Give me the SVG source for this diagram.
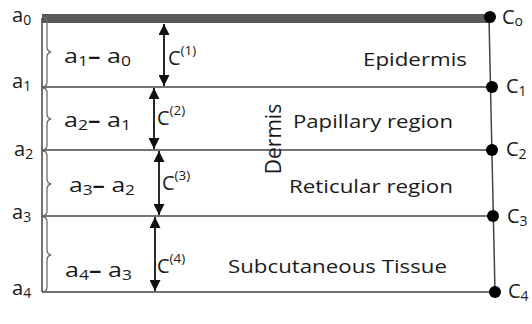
<svg xmlns="http://www.w3.org/2000/svg" width="532" height="324" viewBox="0 0 532 324">
<style>
text{font-family:"Open Sans","Liberation Sans",sans-serif;fill:#1a1a1a}
.lbl{font-size:20px}
.mid{font-size:20px}
.reg{font-size:18.5px}
.c{font-size:20px}
.sub{font-size:14px}
.sup{font-size:13.5px}
.hl{stroke:#444;stroke-width:1.5;fill:none}
.brace{stroke:#6a6a6a;stroke-width:1.3;fill:none}
.arr{stroke:#111;stroke-width:1.8;marker-start:url(#ah);marker-end:url(#ah)}
</style>
<defs>
<marker id="ah" viewBox="0 0 10 10" refX="10" refY="5" markerWidth="11" markerHeight="11" markerUnits="userSpaceOnUse" orient="auto-start-reverse">
<path d="M0,0 L10,5 L0,10 Z" fill="#111"/>
</marker>
</defs>
<rect width="532" height="324" fill="#fff"/>
<g id="frame">
<rect x="42" y="14" width="448" height="9" fill="#595959"/>
<line class="hl" x1="42" y1="18" x2="42" y2="292"/>
<line class="hl" x1="489" y1="18" x2="495" y2="292"/>
</g>
<g id="connectors">
<line class="hl" x1="42" y1="87" x2="492" y2="87"/>
<line class="hl" x1="42" y1="150" x2="492" y2="150"/>
<line class="hl" x1="42" y1="216" x2="493" y2="216"/>
<line class="hl" x1="42" y1="292" x2="495" y2="292"/>
<line class="arr" x1="164" y1="24" x2="164" y2="86"/>
<line class="arr" x1="154" y1="88" x2="154" y2="149"/>
<line class="arr" x1="159" y1="151" x2="159" y2="215"/>
<line class="arr" x1="155" y1="217" x2="155" y2="291"/>
</g>
<g id="braces">
<path class="brace" d="M43,17 Q47,17 47,22 L47,47 Q47,51 51,52 Q47,53 47,57 L47,82 Q47,86 43,87"/>
<path class="brace" d="M43,88 Q47,88 47,93 L47,114 Q47,118 51,119 Q47,120 47,124 L47,145 Q47,149 43,150"/>
<path class="brace" d="M43,151 Q47,151 47,156 L47,179 Q47,183 51,184 Q47,185 47,189 L47,211 Q47,215 43,216"/>
<path class="brace" d="M43,217 Q47,217 47,222 L47,250 Q47,254 51,255 Q47,256 47,260 L47,287 Q47,291 43,292"/>
</g>
<g id="left-labels">
<text class="lbl" x="12" y="22">a<tspan class="sub" dy="3">0</tspan></text>
<text class="lbl" x="12" y="88">a<tspan class="sub" dy="3">1</tspan></text>
<text class="lbl" x="14" y="156">a<tspan class="sub" dy="3">2</tspan></text>
<text class="lbl" x="12" y="219">a<tspan class="sub" dy="3">3</tspan></text>
<text class="lbl" x="12" y="295">a<tspan class="sub" dy="3">4</tspan></text>
</g>
<g id="diff-labels">
<text class="mid" x="64" y="63" textLength="67" lengthAdjust="spacingAndGlyphs">a<tspan class="sub" dy="3">1</tspan><tspan dy="-3" font-weight="bold">–</tspan><tspan dy="0"> a</tspan><tspan class="sub" dy="3">0</tspan></text>
<text class="mid" x="64" y="127" textLength="67" lengthAdjust="spacingAndGlyphs">a<tspan class="sub" dy="3">2</tspan><tspan dy="-3" font-weight="bold">–</tspan><tspan dy="0"> a</tspan><tspan class="sub" dy="3">1</tspan></text>
<text class="mid" x="69" y="192" textLength="66" lengthAdjust="spacingAndGlyphs">a<tspan class="sub" dy="3">3</tspan><tspan dy="-3" font-weight="bold">–</tspan><tspan dy="0"> a</tspan><tspan class="sub" dy="3">2</tspan></text>
<text class="mid" x="65" y="277" textLength="67" lengthAdjust="spacingAndGlyphs">a<tspan class="sub" dy="3">4</tspan><tspan dy="-3" font-weight="bold">–</tspan><tspan dy="0"> a</tspan><tspan class="sub" dy="3">3</tspan></text>
</g>
<g id="c-labels">
<text class="c" x="168" y="65">C<tspan class="sup" dy="-10">(1)</tspan></text>
<text class="c" x="157" y="125">C<tspan class="sup" dy="-10">(2)</tspan></text>
<text class="c" x="162" y="190">C<tspan class="sup" dy="-10">(3)</tspan></text>
<text class="c" x="157" y="273">C<tspan class="sup" dy="-10">(4)</tspan></text>
</g>
<g id="regions">
<text class="reg" x="363" y="66" textLength="104" lengthAdjust="spacingAndGlyphs">Epidermis</text>
<text class="reg" x="293" y="128" textLength="160" lengthAdjust="spacingAndGlyphs">Papillary region</text>
<text class="reg" x="289" y="193" textLength="164" lengthAdjust="spacingAndGlyphs">Reticular region</text>
<text class="reg" x="228" y="273" textLength="219" lengthAdjust="spacingAndGlyphs">Subcutaneous Tissue</text>
<text font-size="21" transform="translate(281,139) rotate(-90)" text-anchor="middle">Dermis</text>
</g>
<g id="nodes">
<g id="c0"><circle cx="490" cy="17" r="6" fill="#000"/><text class="c" x="502" y="24">C<tspan class="sub" dy="2">o</tspan></text></g>
<g id="c1"><circle cx="492" cy="87" r="6" fill="#000"/><text class="c" x="506" y="93">C<tspan class="sub" dy="3">1</tspan></text></g>
<g id="c2"><circle cx="492" cy="150" r="6" fill="#000"/><text class="c" x="506" y="156">C<tspan class="sub" dy="3">2</tspan></text></g>
<g id="c3"><circle cx="493" cy="216" r="6" fill="#000"/><text class="c" x="507" y="223">C<tspan class="sub" dy="3">3</tspan></text></g>
<g id="c4"><circle cx="495" cy="292" r="6" fill="#000"/><text class="c" x="508" y="298">C<tspan class="sub" dy="3">4</tspan></text></g>
</g>
</svg>
